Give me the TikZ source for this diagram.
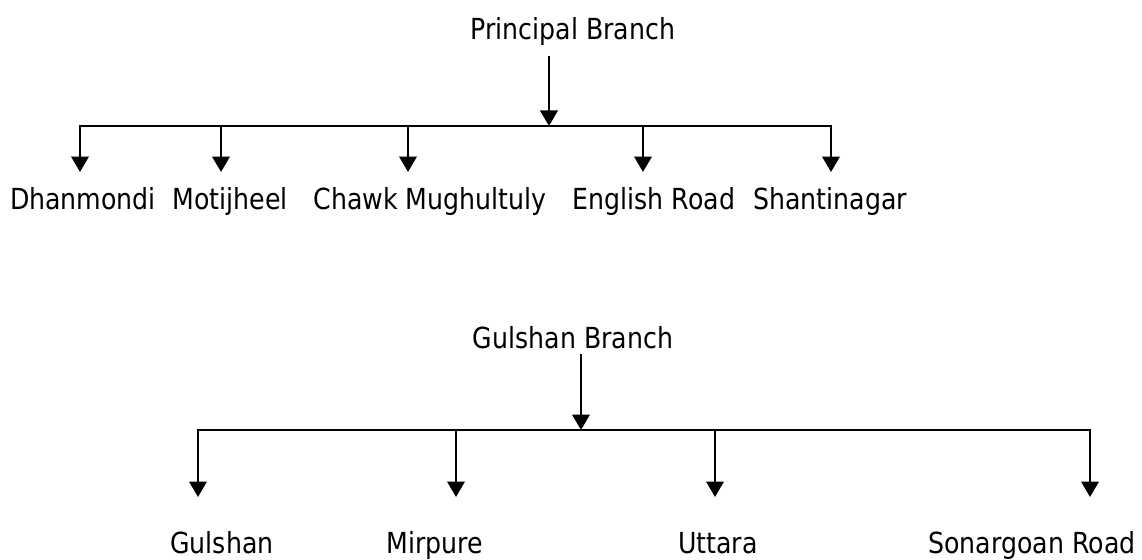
\documentclass[tikz,border=0pt]{standalone}
\usepackage{fontspec}
\setmainfont{DejaVu Sans}[FakeStretch=0.87]
\usetikzlibrary{arrows.meta}

\begin{document}
\begin{tikzpicture}[x=0.02cm, y=-0.02cm]
        \tikzset{place/.style={
            font=\fontsize{16.5}{20}\selectfont,
            inner sep=0pt,
            anchor=base,
        }}
        \tikzset{arrow/.style={
            line width=1.3pt,
            -{Triangle[width=0.35cm, length=0.31cm]}
        }}
        \tikzset{bar/.style={
            line width=1.2pt,
            line cap=rect
        }}
        \useasboundingbox (0,0) rectangle (1142,560);
        \begin{scope}
            \node[place] (p0) at (573, 40) {Principal Branch};
            \coordinate (p0-in) at (549, 126);
            \draw[arrow] ([yshift=-0.2cm]p0.south -| p0-in) -- (p0-in);

            \foreach \n/\bx/\tx/\txt in {p1/80/83/Dhanmondi, p2/221/230/Motijheel, p3/408/430/Chawk Mughultuly, p4/643/654/English Road, p5/831/830/Shantinagar} {
                \node[place] (\n) at (\tx, 210) {\txt};
                \coordinate (\n-top) at (\bx, 126);
                \coordinate (\n-bot) at (\bx, 172);
                \draw[arrow] (\n-top) -- (\n-bot);
            }
            \draw[bar] (p1-top) -- (p5-top);
        \end{scope}
        \begin{scope}
            \node[place] (q0) at (573, 349) {Gulshan Branch};
            \coordinate (q0-in) at (581, 430);
            \draw[arrow] ([yshift=-0.08cm]q0.south -| q0-in) -- (q0-in);

            \foreach \n/\bx/\tx/\txt in {q1/198/222/Gulshan, q2/456/435/Mirpure, q3/715/718/Uttara, q4/1090/1032/Sonargoan Road} {
                \node[place] (\n) at (\tx, 553) {\txt};
                \coordinate (\n-top) at (\bx, 430);
                \coordinate (\n-bot) at (\bx, 497);
                \draw[arrow] (\n-top) -- (\n-bot);
            }
            \draw[bar] (q1-top) -- (q4-top);
        \end{scope}
\end{tikzpicture}
\end{document}
